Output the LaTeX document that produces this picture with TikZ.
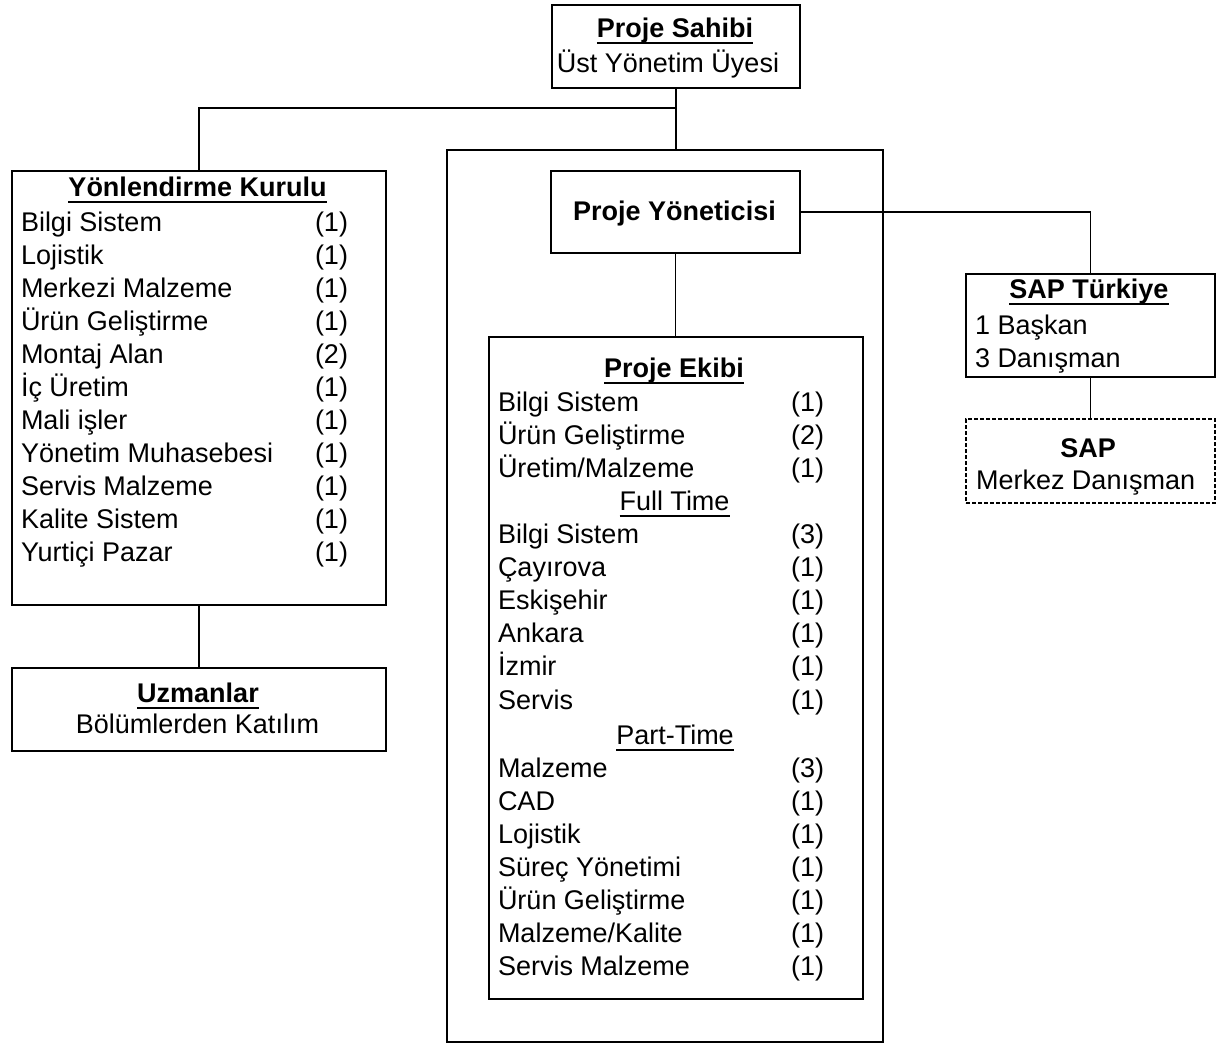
\documentclass[tikz,border=0pt]{standalone}
\usepackage{fontspec}
\setmainfont{Liberation Sans}
\newcommand\myul[1]{\leavevmode\setbox0\hbox{#1}\rlap{\rule[-3.25pt]{\wd0}{1pt}}\box0}
\begin{document}
\begin{tikzpicture}[x=0.5pt,y=-0.5pt,
  box/.style={draw,line width=0.9pt,rectangle,inner sep=0pt,outer sep=0pt},
  dbox/.style={box,dash pattern=on 2pt off 1pt},
  conn/.style={line width=0.9pt},
  txt/.style={inner sep=0pt,outer sep=0pt,font=\fontsize{13.5}{16}\selectfont},
  lbl/.style={txt,anchor=base west},
  num/.style={txt,anchor=base east},
  ctr/.style={txt,anchor=base}]
\useasboundingbox (0,0) rectangle (1216,1044);

% boxes
\node[box,minimum width=124pt,minimum height=41.5pt] (sahibi) at (676,46.5) {};
\node[box,minimum width=187pt,minimum height=217pt] (yk) at (199,388) {};
\node[box,minimum width=187pt,minimum height=41.5pt] (uzm) at (199,709.5) {};
\node[box,minimum width=218pt,minimum height=446pt] (frame) at (665,596) {};
\node[box,minimum width=124.5pt,minimum height=41pt] (pm) at (675.5,212) {};
\node[box,minimum width=187pt,minimum height=331pt] (ekip) at (676,668) {};
\node[box,minimum width=124.5pt,minimum height=51.5pt] (sapt) at (1090.5,325.5) {};
\node[dbox,minimum width=124.5pt,minimum height=42pt] (sapm) at (1090.5,461) {};

% connectors
\coordinate (j) at (676,108);
\draw[conn] (sahibi.south) -- (sahibi.south |- frame.north);
\draw[conn] (j) -| (yk.north);
\draw[conn] (yk.south) -- (uzm.north);
\draw[conn] (pm.south) -- (pm.south |- ekip.north);
\draw[conn] (pm.east) -| (sapt.north);
\draw[conn] (sapt.south) -- (sapm.north);

% Proje Sahibi
\node[ctr] (t-sah1) at (675,37) {\bfseries\myul{Proje Sahibi}};
\node[ctr] (t-sah2) at (668,72) {Üst Yönetim Üyesi};

% Proje Yöneticisi
\node[ctr] (t-pm) at (674.5,220) {\bfseries Proje Yöneticisi};

% Yönlendirme Kurulu
\node[ctr] (t-yk) at (197.5,196) {\bfseries\myul{Yönlendirme Kurulu}};
\foreach \a/\b [count=\i] in {Bilgi Sistem/1, Lojistik/1, Merkezi Malzeme/1,
  Ürün Geliştirme/1, Montaj Alan/2, İç Üretim/1, Mali işler/1,
  Yönetim Muhasebesi/1, Servis Malzeme/1, Kalite Sistem/1, Yurtiçi Pazar/1}{
  \node[lbl] (ykl\i) at (21,{231+33*(\i-1)}) {\a};
  \node[num] (ykn\i) at (348,{231+33*(\i-1)}) {(\b)};
}

% Uzmanlar
\node[ctr] (t-uzm1) at (198,702) {\bfseries\myul{Uzmanlar}};
\node[ctr] (t-uzm2) at (197.5,733) {Bölümlerden Katılım};

% Proje Ekibi
\node[ctr] (t-ekip) at (674,377) {\bfseries\myul{Proje Ekibi}};
\foreach \a/\b/\y [count=\i] in {{Bilgi Sistem}/1/411, {Ürün Geliştirme}/2/444,
  {Üretim/Malzeme}/1/477}{
  \node[lbl] (pea\i) at (498,\y) {\a};
  \node[num] (pean\i) at (824,\y) {(\b)};
}
\node[ctr] (t-full) at (674.5,510) {\myul{Full Time}};
\foreach \a/\b/\y [count=\i] in {{Bilgi Sistem}/3/543, {Çayırova}/1/576,
  {Eskişehir}/1/609, {Ankara}/1/642, {İzmir}/1/675, {Servis}/1/709}{
  \node[lbl] (peb\i) at (498,\y) {\a};
  \node[num] (pebn\i) at (824,\y) {(\b)};
}
\node[ctr] (t-part) at (675,744) {\myul{Part-Time}};
\foreach \a/\b/\y [count=\i] in {{Malzeme}/3/777, {CAD}/1/810, {Lojistik}/1/843,
  {Süreç Yönetimi}/1/876, {Ürün Geliştirme}/1/909, {Malzeme/Kalite}/1/942,
  {Servis Malzeme}/1/975}{
  \node[lbl] (pec\i) at (498,\y) {\a};
  \node[num] (pecn\i) at (824,\y) {(\b)};
}

% SAP Türkiye
\node[ctr] (t-sapt) at (1089,298) {\bfseries\myul{SAP Türkiye}};
\node[lbl] (t-sapt1) at (975,334) {1 Başkan};
\node[lbl] (t-sapt2) at (975,367) {3 Danışman};

% SAP Merkez
\node[ctr] (t-sapm1) at (1088,457) {\bfseries SAP};
\node[lbl] (t-sapm2) at (976,489) {Merkez Danışman};
\end{tikzpicture}
\end{document}
